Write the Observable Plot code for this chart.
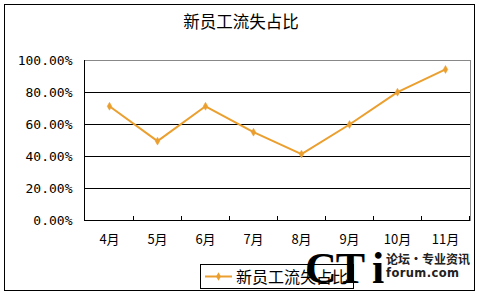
<!DOCTYPE html>
<html><head><meta charset="utf-8">
<script src="https://cdn.jsdelivr.net/npm/d3@7"></script>
<script src="https://cdn.jsdelivr.net/npm/@observablehq/plot@0.6"></script>
<style>
html,body{margin:0;padding:0;background:#fff;}
svg{display:block;}
</style></head><body>
<div id="chart"></div>
<script>
const title = "新员工流失占比";
const months = ["4月","5月","6月","7月","8月","9月","10月","11月"];
const values = [0.714, 0.496, 0.714, 0.552, 0.415, 0.60, 0.802, 0.944];
const yTicks = [0, 0.2, 0.4, 0.6, 0.8, 1.0];
const gridTicks = [0.2, 0.4, 0.6, 0.8];
const seriesName = "新员工流失占比";
const color = "#EB9F2E";

const data = months.map((m, i) => ({month: m, value: values[i]}));
const cjk = "'Noto Sans CJK SC', sans-serif";
const mono = "'DejaVu Sans Mono', monospace";

const plot = Plot.plot({
  width: 485, height: 297,
  marginLeft: 84, marginRight: 15, marginTop: 60, marginBottom: 77,
  style: {background: "#fff", overflow: "visible"},
  x: {type: "band", domain: months, padding: 0, label: null},
  y: {domain: [0, 1], label: null},
  marks: [
    Plot.frame({stroke: "#888"}),
    Plot.ruleY(gridTicks, {stroke: "#000", strokeWidth: 1}),
    Plot.ruleY([0], {stroke: "#000", strokeWidth: 1}),
    Plot.axisY({ticks: yTicks, tickFormat: d3.format(".2%"), tickSize: 0, tickPadding: 12,
      fontSize: 13, fontFamily: mono, fill: "#000", label: null}),
    Plot.axisX({tickSize: 0, tickPadding: 14, fontSize: 13, fontFamily: cjk, fill: "#000", label: null}),
    Plot.line(data, {x: "month", y: "value", stroke: color, strokeWidth: 2}),
    Plot.dot(data, {x: "month", y: "value", symbol: "diamond", r: 2.4, fill: color, stroke: color, strokeWidth: 0.5})
  ]
});
document.getElementById("chart").appendChild(plot);

const svg = d3.select(plot);
const xs = plot.scale("x");
const ys = plot.scale("y");
const [x0, x1] = xs.range;
const y0 = ys.apply(0), yTop = ys.apply(1);

// left axis line
svg.append("line").attr("x1", x0 + 0.5).attr("x2", x0 + 0.5).attr("y1", yTop).attr("y2", y0)
  .attr("stroke", "#000");
// x ticks at band boundaries
months.forEach((m, i) => {
  const xx = Math.round(xs.apply(m) + xs.bandwidth) + 0.5;
  svg.append("line").attr("x1", xx).attr("x2", xx).attr("y1", y0 - 4).attr("y2", y0)
    .attr("stroke", "#000");
});

// outer border
svg.append("rect").attr("x", 4.5).attr("y", 4.5).attr("width", 470).attr("height", 286)
  .attr("fill", "none").attr("stroke", "#000").attr("stroke-width", 1);

// title
svg.append("text").attr("x", 241).attr("y", 28).attr("text-anchor", "middle")
  .attr("font-family", cjk).attr("font-size", 16.5).attr("fill", "#000").text(title);

// legend
const lg = svg.append("g").attr("text-anchor", "start");
lg.append("rect").attr("x", 200.5).attr("y", 264.5).attr("width", 153).attr("height", 24)
  .attr("fill", "#fff").attr("stroke", "#000");
lg.append("line").attr("x1", 205).attr("x2", 232).attr("y1", 276.5).attr("y2", 276.5)
  .attr("stroke", color).attr("stroke-width", 2);
lg.append("path").attr("d", d3.symbol(d3.symbolDiamond, 20)()).attr("transform", "translate(218.5,276.5)")
  .attr("fill", color);
lg.append("text").attr("x", 236).attr("y", 283).attr("font-family", cjk).attr("font-size", 16)
  .attr("fill", "#000").text(seriesName);

// watermark
const wm = svg.append("g").attr("text-anchor", "start");
wm.append("text").attr("x", 305).attr("y", 283).attr("font-family", "'Liberation Serif', serif")
  .attr("font-weight", "bold").attr("font-size", 44).attr("fill", "#000").attr("letter-spacing", -1).text("CT");
wm.append("text").attr("x", 372).attr("y", 283).attr("font-family", "'Liberation Serif', serif")
  .attr("font-weight", "bold").attr("font-size", 44).attr("fill", "#000").text("i");
wm.append("text").attr("x", 386).attr("y", 264).attr("font-family", cjk)
  .attr("font-weight", "bold").attr("font-size", 12).attr("fill", "#222").text("论坛·专业资讯");
wm.append("text").attr("x", 386).attr("y", 276.5).attr("font-family", "'DejaVu Sans', sans-serif")
  .attr("font-weight", "bold").attr("font-size", 11.5).attr("fill", "#222").attr("letter-spacing", 0.4).text("forum.com");
</script>
</body></html>
